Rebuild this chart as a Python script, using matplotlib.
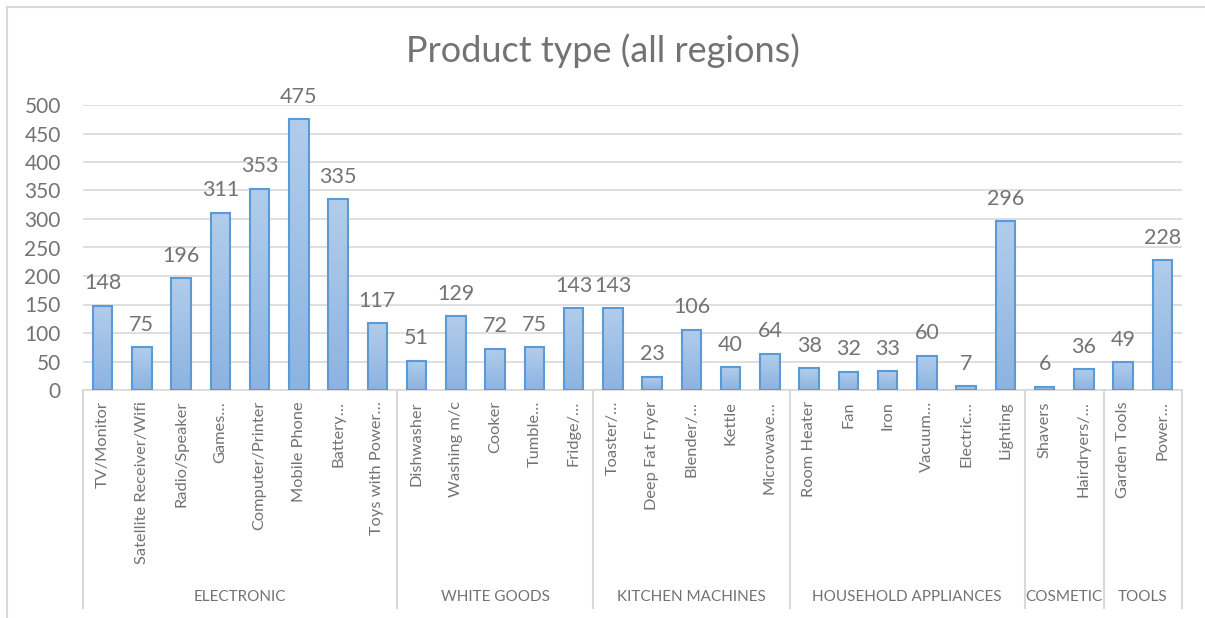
import numpy as np
import matplotlib
matplotlib.use("Agg")
import matplotlib.pyplot as plt
from matplotlib.colors import LinearSegmentedColormap
from matplotlib.patches import Rectangle
import matplotlib.transforms as mtransforms

plt.rcParams['font.family'] = ['Lato', 'DejaVu Sans']

# Product categories, grouped by department
groups = ["ELECTRONIC", "WHITE GOODS", "KITCHEN MACHINES",
          "HOUSEHOLD APPLIANCES", "COSMETIC", "TOOLS"]
group_sizes = [8, 5, 5, 6, 2, 2]
products = [
    "TV/Monitor", "Satellite Receiver/Wifi", "Radio/Speaker", "Games…",
    "Computer/Printer", "Mobile Phone", "Battery…", "Toys with Power…",
    "Dishwasher", "Washing m/c", "Cooker", "Tumble…", "Fridge/…",
    "Toaster/…", "Deep Fat Fryer", "Blender/…", "Kettle", "Microwave…",
    "Room Heater", "Fan", "Iron", "Vacuum…", "Electric…", "Lighting",
    "Shavers", "Hairdryers/…",
    "Garden Tools", "Power…",
]
counts = [148, 75, 196, 311, 353, 475, 335, 117,
          51, 129, 72, 75, 143,
          143, 23, 106, 40, 64,
          38, 32, 33, 60, 7, 296,
          6, 36,
          49, 228]
y_ticks = [0, 50, 100, 150, 200, 250, 300, 350, 400, 450, 500]

TEXT = "#737373"
GRID = "#d9d9d9"
EDGE = "#5b9bd5"

W, H = 1205, 618
fig = plt.figure(figsize=(W / 100, H / 100), dpi=100)
ax = fig.add_axes([83 / W, (H - 390) / H, (1182 - 83) / W, (390 - 105) / H])

n = len(products)

# vertical gradient used to fill each bar (light at top, deeper at base)
cmap = LinearSegmentedColormap.from_list("bar", ["#8cb3e1", "#b2cdeb"])
grad = np.linspace(0, 1, 256).reshape(-1, 1)

bar_w = 0.5
for i, v in enumerate(counts):
    x0 = i + 0.5 - bar_w / 2
    ax.imshow(grad, extent=(x0, x0 + bar_w, 0, v), origin="lower",
              cmap=cmap, aspect="auto", zorder=2, interpolation="bilinear")
    ax.add_patch(Rectangle((x0, 0), bar_w, v, facecolor="none",
                           edgecolor=EDGE, linewidth=1.5, zorder=3))
    ax.annotate(str(v), (i + 0.5, v), xytext=(0, 9), textcoords="offset points",
                ha="center", va="bottom", fontsize=15.5, color=TEXT, zorder=4)
ax.set_xlim(0, n)
ax.set_ylim(0, 500)

ax.set_yticks(y_ticks)
ax.set_yticklabels([str(t) for t in y_ticks], fontsize=15, color=TEXT)
ax.yaxis.grid(True, color=GRID, linewidth=1.2)
ax.set_axisbelow(True)
ax.tick_params(axis="y", length=0, pad=16)
ax.set_xticks([])
for s in ["top", "right", "left"]:
    ax.spines[s].set_visible(False)
ax.spines["bottom"].set_color(GRID)
ax.spines["bottom"].set_linewidth(1.2)

# product labels, rotated under each bar
blend = mtransforms.blended_transform_factory(ax.transData, ax.transAxes)
px = 1 / (390 - 105)  # one pixel in axes-fraction units
for i, name in enumerate(products):
    ax.text(i + 0.5, -11 * px, name, rotation=90, ha="center", va="top",
            fontsize=11.8, color=TEXT, transform=blend)

# group separators and group names
bounds = np.concatenate([[0], np.cumsum(group_sizes)])
for b in bounds:
    ax.plot([b, b], [0, -(608 - 390) * px], color=GRID, linewidth=1.5,
            transform=blend, clip_on=False)
for g, a, b in zip(groups, bounds[:-1], bounds[1:]):
    ax.text((a + b) / 2, -(597 - 390) * px, g, ha="center", va="center",
            fontsize=11, color=TEXT, transform=blend)

fig.text(0.5, 1 - 51 / H, "Product type (all regions)", ha="center",
         va="center", fontsize=26, color=TEXT)

# chart frame lines (top and left)
fig.add_artist(plt.Line2D([7 / W, 1], [1 - 7 / H, 1 - 7 / H],
                          transform=fig.transFigure, color=GRID, linewidth=1.5))
fig.add_artist(plt.Line2D([7 / W, 7 / W], [0, 1 - 7 / H],
                          transform=fig.transFigure, color=GRID, linewidth=1.5))

fig.savefig("out.png", dpi=100)
